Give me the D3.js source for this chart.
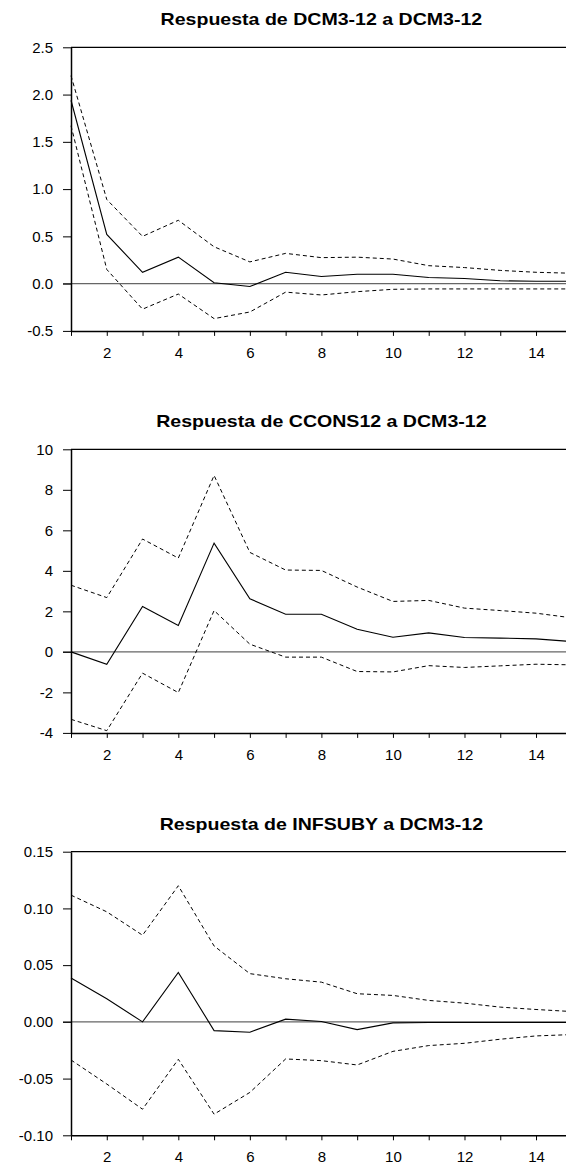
<!DOCTYPE html>
<html>
<head>
<meta charset="utf-8">
<title>Respuestas a DCM3-12</title>
<style>
    body {
        margin: 0;
        background: #fff;
        font-family: "Liberation Sans", Arial, sans-serif;
    }
    .title {
        font-weight: bold;
        font-size: 17px;
    }
    .axis text {
        font-size: 15px;
        fill: #000;
    }
</style>
</head>
<body>
<div id="chart"></div>
<script src="https://d3js.org/d3.v7.min.js"></script>
<script>
// Horizons
const periods = [1, 2, 3, 4, 5, 6, 7, 8, 9, 10, 11, 12, 13, 14, 15];
const xTickLabels = [2, 4, 6, 8, 10, 12, 14];

// Respuesta de DCM3-12
const dcmTitle = "Respuesta de DCM3-12 a DCM3-12";
const dcmResp  = [1.94, 0.52, 0.12, 0.28, 0.01, -0.03, 0.12, 0.075, 0.10, 0.10, 0.065, 0.055, 0.03, 0.025, 0.025];
const dcmUpper = [2.20, 0.89, 0.50, 0.67, 0.39, 0.23, 0.32, 0.275, 0.28, 0.26, 0.19, 0.17, 0.14, 0.12, 0.11];
const dcmLower = [1.67, 0.15, -0.27, -0.11, -0.37, -0.30, -0.09, -0.12, -0.085, -0.06, -0.056, -0.056, -0.056, -0.056, -0.056];
const dcmTicks = [-0.5, 0.0, 0.5, 1.0, 1.5, 2.0, 2.5];

// Respuesta de CCONS12
const cconsTitle = "Respuesta de CCONS12 a DCM3-12";
const cconsResp  = [0.0, -0.61, 2.24, 1.30, 5.37, 2.62, 1.86, 1.86, 1.12, 0.72, 0.94, 0.71, 0.68, 0.64, 0.51];
const cconsUpper = [3.29, 2.68, 5.57, 4.63, 8.71, 4.91, 4.04, 4.02, 3.20, 2.49, 2.54, 2.16, 2.04, 1.91, 1.68];
const cconsLower = [-3.33, -3.89, -1.05, -2.01, 2.04, 0.38, -0.26, -0.26, -0.97, -0.99, -0.68, -0.77, -0.69, -0.61, -0.64];
const cconsTicks = [-4, -2, 0, 2, 4, 6, 8, 10];

// Respuesta de INFSUBY
const infTitle = "Respuesta de INFSUBY a DCM3-12";
const infResp  = [0.0386, 0.0203, 0.0, 0.0436, -0.0077, -0.0091, 0.0024, 0.0003, -0.0068, -0.0009, -0.0006, -0.0005, -0.0005, -0.0005, -0.0005];
const infUpper = [0.1117, 0.097, 0.0764, 0.120, 0.0669, 0.0425, 0.038, 0.035, 0.0248, 0.0233, 0.0189, 0.0165, 0.013, 0.0109, 0.0091];
const infLower = [-0.0336, -0.0548, -0.077, -0.033, -0.0814, -0.0622, -0.0327, -0.0342, -0.038, -0.026, -0.0209, -0.0189, -0.0153, -0.0124, -0.0112];
const infTicks = [-0.10, -0.05, 0.00, 0.05, 0.10, 0.15];

// hyphen minus, like the original
const locale = d3.formatLocale({decimal: ".", thousands: ",", grouping: [3], currency: ["$", ""], minus: "-"});

const panels = [
    {title: dcmTitle, resp: dcmResp, upper: dcmUpper, lower: dcmLower, ticks: dcmTicks, fmt: locale.format(".1f"), top: 47.3},
    {title: cconsTitle, resp: cconsResp, upper: cconsUpper, lower: cconsLower, ticks: cconsTicks, fmt: locale.format("d"), top: 449.3},
    {title: infTitle, resp: infResp, upper: infUpper, lower: infLower, ticks: infTicks, fmt: locale.format(".2f"), top: 851.7}
];

const W = 566, H = 1167;
const left = 71, right = 571.8, plotH = 283.6;

const svg = d3.select("#chart").append("svg")
    .attr("width", W)
    .attr("height", H);

const x = d3.scaleLinear().domain([1, 15]).range([left, right]);

panels.forEach(p => {
    const g = svg.append("g").attr("transform", `translate(0,${p.top})`);

    const y = d3.scaleLinear()
        .domain(d3.extent(p.ticks))
        .range([plotH, 0]);

    // title, a bit wide like the source
    const t = g.append("text")
        .attr("class", "title")
        .attr("x", (left + right) / 2)
        .attr("y", -22)
        .attr("text-anchor", "middle")
        .text(p.title);
    t.attr("textLength", t.node().getComputedTextLength() * 1.15)
        .attr("lengthAdjust", "spacingAndGlyphs");

    // zero line
    g.append("line")
        .attr("x1", left - 8)
        .attr("x2", W)
        .attr("y1", y(0))
        .attr("y2", y(0))
        .attr("stroke", "#666")
        .attr("stroke-width", 1.3);

    // top frame
    g.append("line")
        .attr("x1", left)
        .attr("x2", W)
        .attr("y1", 0)
        .attr("y2", 0)
        .attr("stroke", "#000")
        .attr("stroke-width", 1.3);

    // y axis
    g.append("g")
        .attr("class", "axis")
        .attr("transform", `translate(${left},0)`)
        .call(d3.axisLeft(y).tickValues(p.ticks).tickFormat(p.fmt).tickSize(8).tickPadding(10).tickSizeOuter(0))
        .call(a => a.select(".domain").attr("stroke-width", 1.5));

    // x axis
    g.append("g")
        .attr("class", "axis")
        .attr("transform", `translate(0,${plotH})`)
        .call(d3.axisBottom(x).tickValues(periods).tickSize(5).tickPadding(11.5).tickSizeOuter(0)
            .tickFormat(d => xTickLabels.includes(d) ? d : ""))
        .call(a => a.select(".domain").attr("stroke-width", 1.5));

    const line = d3.line()
        .x((d, i) => x(periods[i]))
        .y(d => y(d));

    g.append("path")
        .datum(p.upper)
        .attr("d", line)
        .attr("fill", "none")
        .attr("stroke", "#000")
        .attr("stroke-width", 1)
        .attr("stroke-dasharray", "4 3");

    g.append("path")
        .datum(p.lower)
        .attr("d", line)
        .attr("fill", "none")
        .attr("stroke", "#000")
        .attr("stroke-width", 1)
        .attr("stroke-dasharray", "4 3");

    g.append("path")
        .datum(p.resp)
        .attr("d", line)
        .attr("fill", "none")
        .attr("stroke", "#000")
        .attr("stroke-width", 1.1);
});
</script>
</body>
</html>
